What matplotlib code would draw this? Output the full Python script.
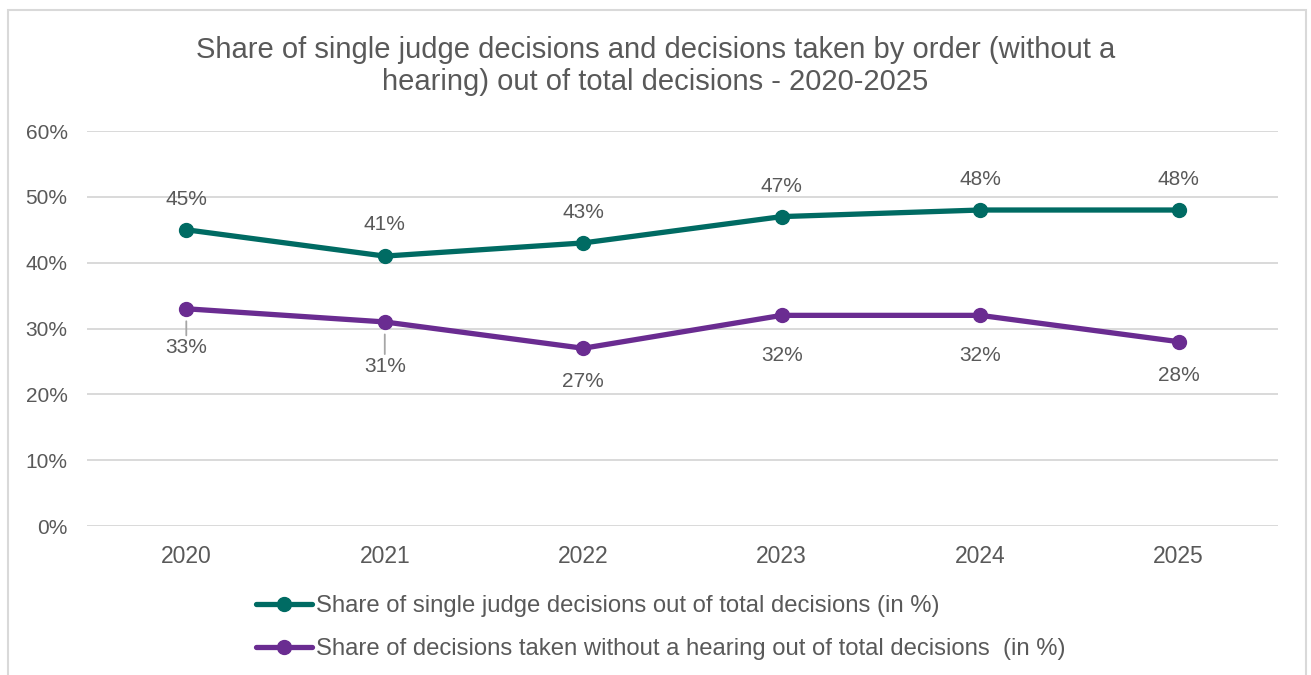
import matplotlib.pyplot as plt
from matplotlib.patches import Rectangle
from matplotlib.ticker import FuncFormatter, MultipleLocator

plt.rcParams['font.family'] = ['Liberation Sans', 'DejaVu Sans']

years = ['2020', '2021', '2022', '2023', '2024', '2025']
single_judge = [45, 41, 43, 47, 48, 48]
without_hearing = [33, 31, 27, 32, 32, 28]
# label offsets (points) picked to sit like the original labels
single_off = [22, 23, 22, 22, 22, 22]
hearing_off = [-28, -32, -24, -29, -29, -24]
hearing_leader = [True, True, False, False, False, False]

TEXT = '#595959'
GREEN = '#006B63'
PURPLE = '#6A2C91'

fig = plt.figure(figsize=(13.11, 6.75), dpi=100)
ax = fig.add_axes([0.0664, 0.2207, 0.9084, 0.5852])

x = list(range(len(years)))
ax.plot(x, single_judge, color=GREEN, lw=3.8, marker='o', ms=10,
        solid_capstyle='round',
        label='Share of single judge decisions out of total decisions (in %)')
ax.plot(x, without_hearing, color=PURPLE, lw=3.8, marker='o', ms=10,
        solid_capstyle='round',
        label='Share of decisions taken without a hearing out of total decisions  (in %)')

for i, v in enumerate(single_judge):
    ax.annotate(f'{v}%', (i, v), xytext=(0, single_off[i]),
                textcoords='offset points', ha='center', va='center',
                fontsize=15, color=TEXT)
for i, v in enumerate(without_hearing):
    ap = None
    if hearing_leader[i]:
        ap = dict(arrowstyle='-', color='#A6A6A6', lw=1.3, shrinkA=0, shrinkB=9)
    ax.annotate(f'{v}%', (i, v), xytext=(0, hearing_off[i]),
                textcoords='offset points', ha='center', va='center',
                fontsize=15, color=TEXT, arrowprops=ap)

ax.set_xlim(-0.5, 5.5)
ax.set_ylim(0, 60)
ax.set_xticks(x)
ax.set_xticklabels(years)
ax.yaxis.set_major_locator(MultipleLocator(10))
ax.yaxis.set_major_formatter(FuncFormatter(lambda v, p: f'{v:.0f}%'))
ax.tick_params(length=0, colors=TEXT)
ax.tick_params(axis='x', labelsize=16.5, pad=14)
ax.tick_params(axis='y', labelsize=15, pad=14)
ax.grid(axis='y', color='#D9D9D9', lw=1.4)
ax.set_axisbelow(True)
for s in ax.spines.values():
    s.set_visible(False)

fig.suptitle('Share of single judge decisions and decisions taken by order (without a\n'
             'hearing) out of total decisions - 2020-2025',
             x=0.5, y=0.947, fontsize=21, color=TEXT, linespacing=1.17)

fig.legend(loc='center left', bbox_to_anchor=(0.195, 0.0705), frameon=False,
           fontsize=17.2, labelcolor=TEXT, handlelength=2.35, handletextpad=0.17,
           labelspacing=0.88, borderpad=0, borderaxespad=0)

fig.patches.append(Rectangle((8 / 1311, -0.05), 1298 / 1311, 0.05 + 665 / 675,
                             transform=fig.transFigure, fill=False,
                             ec='#D9D9D9', lw=1.5))

fig.savefig('out.png', dpi=100)
